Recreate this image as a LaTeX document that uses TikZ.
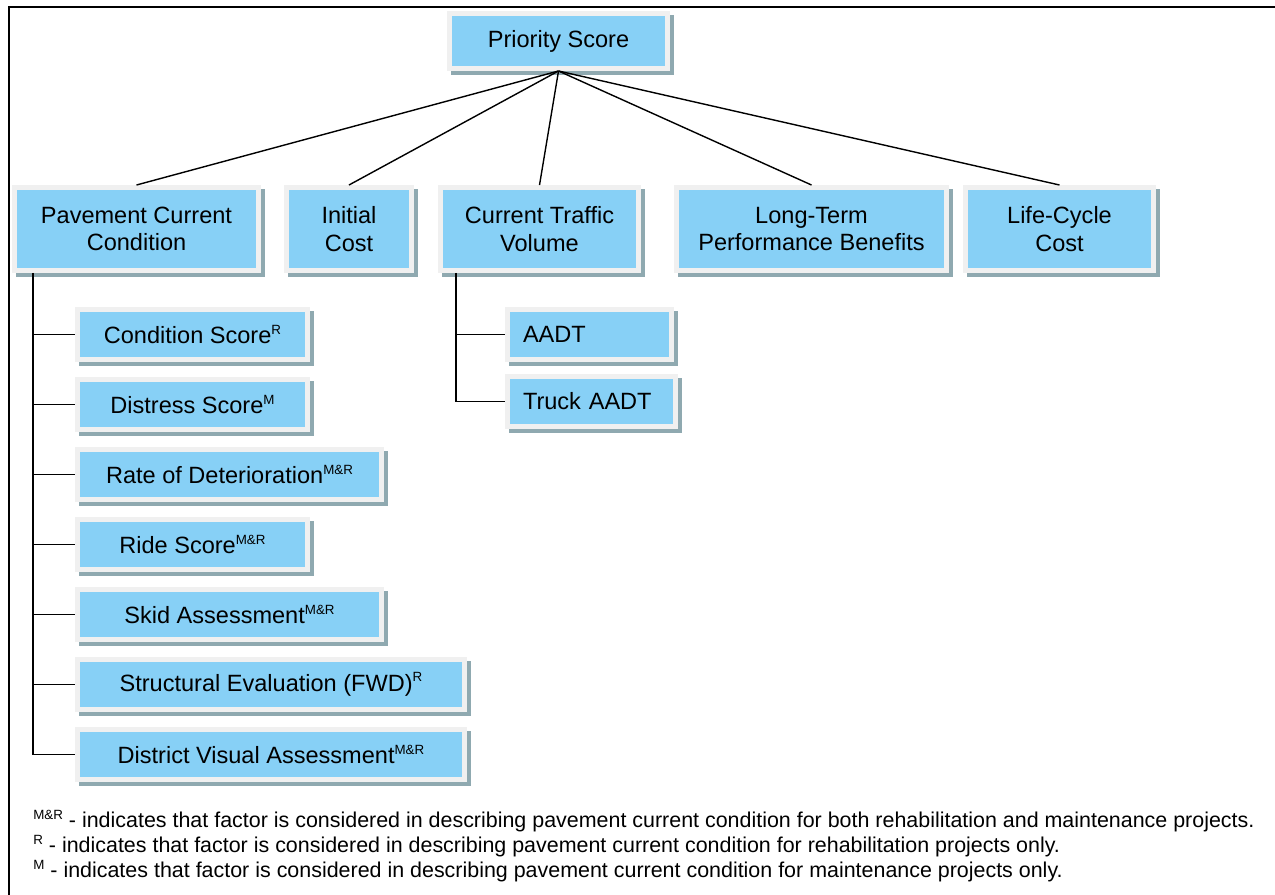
\documentclass[tikz,border=0pt]{standalone}
\usepackage{fontspec}
\setmainfont{Liberation Sans}
\usepackage{xcolor}
\usetikzlibrary{positioning, shadows}

\definecolor{boxsky}{RGB}{135,208,246}
\definecolor{boxrim}{RGB}{240,240,240}
\definecolor{boxshade}{RGB}{143,169,176}

% raised factor marks (M, R, M&R)
\newcommand{\mk}[1]{\raisebox{0.4em}{\fontsize{7.6}{8}\selectfont #1}}

\begin{document}
\begin{tikzpicture}[
x=0.02cm, y=-0.02cm,
node distance=0.3cm,
every node/.style={font=\fontsize{13.4}{15.5}\selectfont},
box/.style={draw=boxrim, fill=boxsky, line width=0.1cm, align=center, inner sep=0pt,
  minimum height=1cm,
  drop shadow={shadow xshift=0.08cm, shadow yshift=-0.08cm, fill=boxshade, draw=boxshade, opacity=1}},
topbox/.style={box, minimum height=1.66cm},
link/.style={line width=0.8pt},
legend/.style={anchor=west, inner sep=0pt, font=\fontsize{12.2}{14}\selectfont}
]
\useasboundingbox (0,0) rectangle (1275,895);

% frame
\draw[line width=0.045cm] (9,895) |- (1275,7);

\node[box, minimum width=4.36cm, minimum height=1.1cm] (ps) at (558.5,41) {Priority Score};

\node[topbox, minimum width=4.88cm] (pcc) at (136.5,229) {Pavement Current\\Condition};
\node[topbox, minimum width=2.5cm] (ic) at (349,229) {Initial\\Cost};
\node[topbox, minimum width=3.96cm] (ctv) at (539.5,229) {Current Traffic\\Volume};
\node[topbox, minimum width=5.4cm] (ltpb) at (811.5,229) {Long-Term\\Performance Benefits};
\node[topbox, minimum width=3.76cm] (lcc) at (1059.5,229) {Life-Cycle\\Cost};

\foreach \n in {pcc,ic,ctv,ltpb,lcc}
  \draw[link] (ps.south) -- (\n.north);

% pavement condition factors
\node[box, minimum width=4.6cm, anchor=north west] (cs) at (75,307) {Condition Score\mk{R}};
\node[box, minimum width=4.6cm, below=of cs.south west, anchor=north west] (ds) {Distress Score\mk{M}};
\node[box, minimum width=6.08cm, below=of ds.south west, anchor=north west] (rd) {Rate of Deterioration\mk{M\&R}};
\node[box, minimum width=4.6cm, below=of rd.south west, anchor=north west] (rs) {Ride Score\mk{M\&R}};
\node[box, minimum width=6.08cm, below=of rs.south west, anchor=north west] (sa) {Skid Assessment\mk{M\&R}};
\node[box, minimum width=7.74cm, below=of sa.south west, anchor=north west] (se) {Structural Evaluation (FWD)\mk{R}};
\node[box, minimum width=7.74cm, below=of se.south west, anchor=north west] (dva) {District Visual Assessment\mk{M\&R}};

\coordinate (pccbus) at (33,273);
\draw[link] (pccbus) |- (dva.west);
\foreach \n in {cs,ds,rd,rs,sa,se}
  \draw[link] (pccbus |- \n.west) -- (\n.west);

% traffic factors
\node[box, inner xsep=0.31cm, text width=2.66cm, align=left, anchor=north west] (aadt) at (505,307) {AADT};
\node[box, inner xsep=0.31cm, text width=2.74cm, align=left, below=0.24cm of aadt.south west, anchor=north west] (taadt) {Truck AADT};

\coordinate (ctvbus) at (456,273);
\draw[link] (ctvbus) |- (taadt.west);
\draw[link] (ctvbus |- aadt.west) -- (aadt.west);

% legend
\node[legend] (legmr) at (33,821) {\mk{M\&R} - indicates that factor is considered in describing pavement current condition for both rehabilitation and maintenance projects.};
\node[legend] (legr) at (33,846) {\mk{R} - indicates that factor is considered in describing pavement current condition for rehabilitation projects only.};
\node[legend] (legm) at (33,871) {\mk{M} - indicates that factor is considered in describing pavement current condition for maintenance projects only.};

\end{tikzpicture}
\end{document}
